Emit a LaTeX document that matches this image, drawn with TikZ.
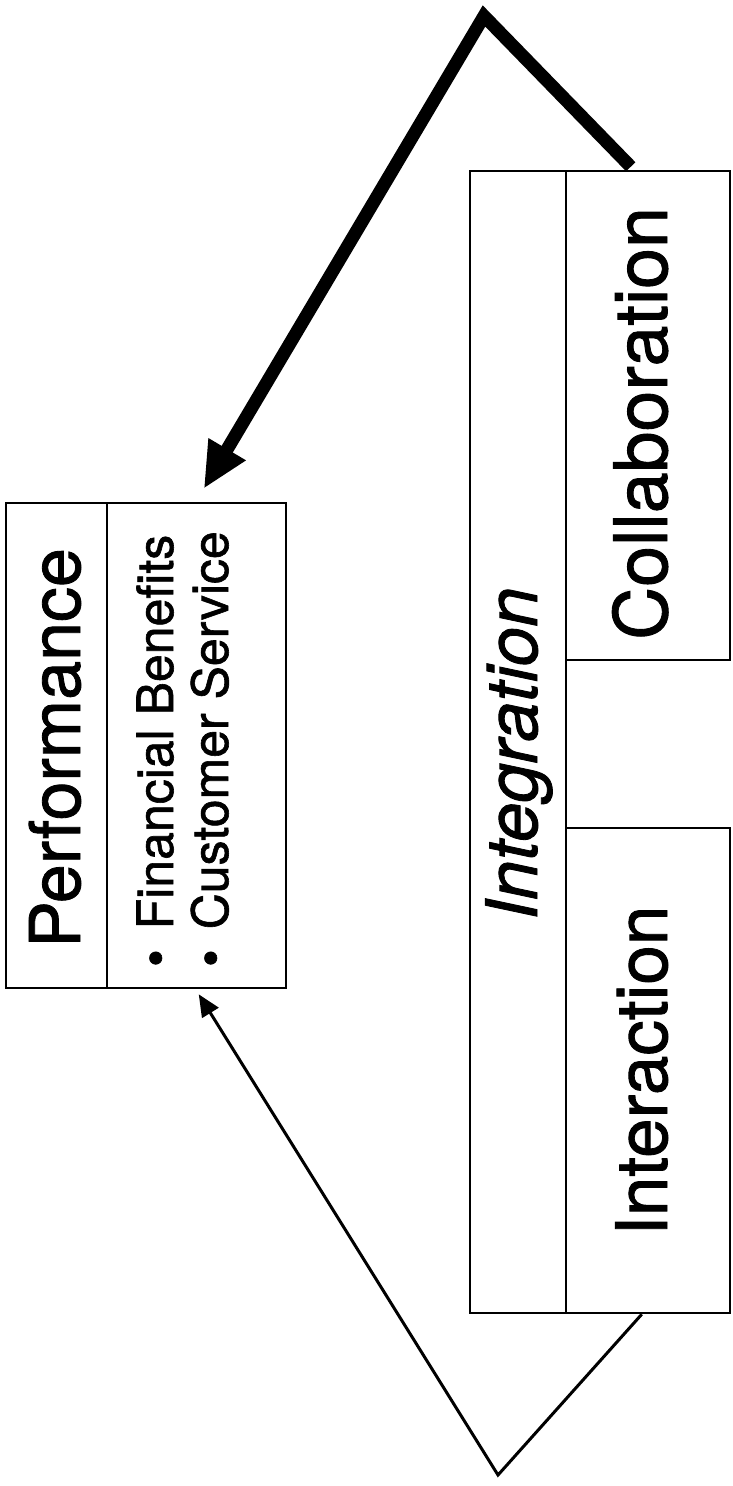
\documentclass[tikz,border=0pt]{standalone}
\usepackage{fontspec}
\setmainfont{TeX Gyre Heros}[BoldFont=TeX Gyre Heros,BoldFeatures={FakeBold=1.2},BoldItalicFont=TeX Gyre Heros Italic,BoldItalicFeatures={FakeBold=1.2}]
\usetikzlibrary{arrows.meta}
\begin{document}
\begin{tikzpicture}[x=1pt,y=-1pt,
  box/.style={draw,line width=2.5pt,inner sep=0pt,rectangle},
  lbl/.style={rotate=90,anchor=base west,inner sep=0pt},
  thickarrow/.style={line width=13pt,line join=miter,-{Triangle[length=46pt,width=40pt]}},
  thinarrow/.style={line width=3pt,line join=miter,-{Triangle[length=22pt,width=19pt]}}]
\useasboundingbox (0,0) rectangle (732,1486);
\fill[white] (0,0) rectangle (732,1486);
% boxes
\node[box,minimum width=101pt,minimum height=485pt] (ptitle) at (56.5,745.5) {};
\node[box,minimum width=179pt,minimum height=485pt] (pbody) at (196.5,745.5) {};
\node[box,minimum width=96pt,minimum height=1142pt] (integ) at (518,742) {};
\node[box,minimum width=164pt,minimum height=489pt] (collab) at (648,415.5) {};
\node[box,minimum width=164pt,minimum height=485pt] (interact) at (648,1070.5) {};
% texts
\node[lbl,font=\bfseries\fontsize{70}{84}\selectfont] (tperf) at (80,948) {Performance};
\node[lbl,font=\bfseries\fontsize{50}{60}\selectfont] (tfin) at (173,967) {•\kern20pt Financial Benefits};
\node[lbl,font=\bfseries\fontsize{50}{60}\selectfont] (tcust) at (228,967) {•\kern20pt Customer Service};
\node[lbl,font=\bfseries\itshape\fontsize{71}{85}\selectfont] (tint) at (537,920) {Integration};
\node[lbl,font=\bfseries\fontsize{73.5}{88}\selectfont] (tcol) at (667,640) {Collaboration};
\node[lbl,font=\bfseries\fontsize{71}{85}\selectfont] (tinter) at (667,1236) {Interaction};
% connectors
\coordinate (apexT) at (484,16);
\coordinate (apexB) at (498,1475);
\draw[thickarrow] ([xshift=66pt,yshift=3pt]collab.north west) -- (apexT) -- ([xshift=98pt,yshift=13pt]pbody.north west);
\draw[thinarrow] ([xshift=77pt]interact.south west) -- (apexB) -- ([xshift=93pt,yshift=-5pt]pbody.south west);
\end{tikzpicture}
\end{document}
